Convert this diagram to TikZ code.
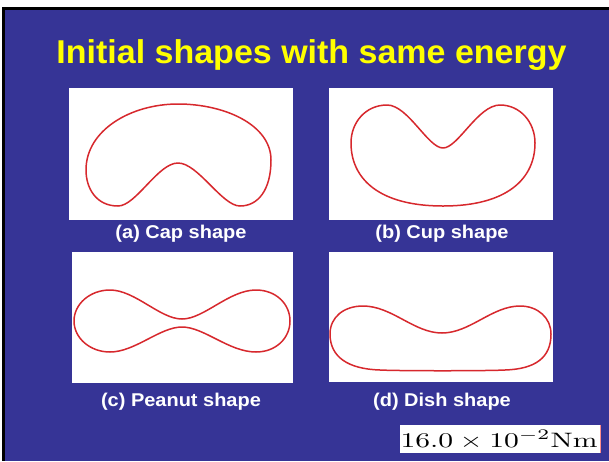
\documentclass[tikz,border=0pt]{standalone}
\usepackage{fontspec}
\setmainfont{Latin Modern Roman}
\newfontfamily\arialbf{Liberation Sans Bold}
\definecolor{slideblue}{RGB}{54,52,150}
\definecolor{curvered}{RGB}{215,40,45}
\definecolor{titleyellow}{RGB}{255,255,0}
\begin{document}
\begin{tikzpicture}[x=1pt,y=-1pt,
  shapecurve/.style={draw=curvered,line width=1.5pt,line join=round},
  caption/.style={text=white,font=\arialbf\fontsize{18.5}{20}\selectfont,anchor=base,inner sep=0pt,xscale=1.08},
  title/.style={text=titleyellow,font=\arialbf\fontsize{33}{38}\selectfont,anchor=base,inner sep=0pt,xscale=1.03}]
\useasboundingbox (0,0) rectangle (609,461);
\fill[white] (0,0) rectangle (609,461);
\fill[black] (2,7) rectangle (609,461);
\fill[slideblue] (5,10) rectangle (609,461);
\node[title] (t) at (311.5,63.5) {Initial shapes with same energy};
% panels
\fill[white] (69,88) rectangle (293,220);
\fill[white] (329,88) rectangle (553,220);
\fill[white] (72,252) rectangle (293,383);
\fill[white] (329,252) rectangle (553,382);
% (a) cap
\draw[shapecurve] (178,104) .. controls (225,104) and (271,125) .. (271,160)
  .. controls (271,190) and (258,206) .. (240,206)
  .. controls (222,206) and (198,163) .. (178,163)
  .. controls (158,163) and (136,206) .. (118,206)
  .. controls (96,206) and (86,188) .. (86,170)
  .. controls (86,130) and (131,104) .. (178,104) -- cycle;
% (b) cup
\draw[shapecurve] (443,148) .. controls (458,148) and (478,105) .. (500,105)
  .. controls (520,105) and (535,122) .. (535,143)
  .. controls (535,178) and (508,206) .. (443,206)
  .. controls (378,206) and (351,178) .. (351,143)
  .. controls (351,122) and (366,105) .. (387,105)
  .. controls (408,105) and (428,148) .. (443,148) -- cycle;
% (c) peanut
\draw[shapecurve] (74,321) .. controls (74,304) and (90,290) .. (110,290)
  .. controls (135,290) and (160,319) .. (182,319)
  .. controls (204,319) and (229,290) .. (256,290)
  .. controls (276,290) and (290,304) .. (290,321)
  .. controls (290,338) and (276,352) .. (256,352)
  .. controls (229,352) and (204,327) .. (182,327)
  .. controls (160,327) and (135,352) .. (110,352)
  .. controls (90,352) and (74,338) .. (74,321) -- cycle;
% (d) dish
\draw[shapecurve] (442,333) .. controls (470,333) and (492,306) .. (520,306)
  .. controls (538,306) and (551,318) .. (551,334)
  .. controls (551,358) and (535,369) .. (505,370)
  .. controls (485,371) and (400,371) .. (380,370)
  .. controls (348,369) and (330,357) .. (330,334)
  .. controls (330,317) and (344,306) .. (363,306)
  .. controls (392,306) and (414,333) .. (442,333) -- cycle;
\node[caption] (ca) at (181,238.3) {(a) Cap shape};
\node[caption] (cb) at (442,238.3) {(b) Cup shape};
\node[caption] (cc) at (181,406.7) {(c) Peanut shape};
\node[caption] (cd) at (442,406.7) {(d) Dish shape};
% energy
\fill[white] (400,425) rectangle (600,453);
\draw[red!45,line width=0.8pt] (600,425) -- (600,453);
\node[anchor=base,inner sep=0pt] (e) at (499,447.5) {\resizebox{197pt}{17pt}{$16.0\times 10^{-2}$Nm}};
\end{tikzpicture}
\end{document}
